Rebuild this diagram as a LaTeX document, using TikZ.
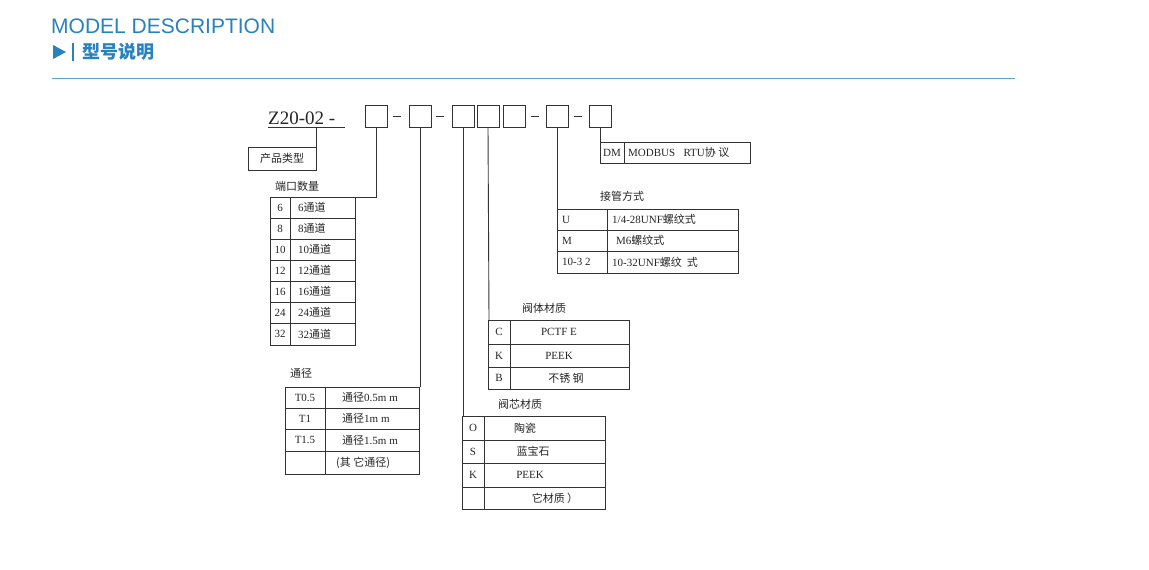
\documentclass[tikz,border=0pt]{standalone}
\usepackage{fontspec}
\setmainfont{Liberation Serif}
\newfontfamily\cjk{Noto Sans CJK SC}
\newfontfamily\hdr{Liberation Sans}
\definecolor{blu}{RGB}{40,130,190}
\definecolor{lblu}{RGB}{90,165,205}
\begin{document}
\begin{tikzpicture}[x=1pt,y=-1pt,
  ln/.style={draw=black!80,line width=0.9pt},
  tx/.style={inner sep=0pt,font=\fontsize{11}{12}\selectfont\cjk,text=black!85},
  lt/.style={inner sep=0pt,font=\fontsize{11}{12}\selectfont,text=black!85}]
\useasboundingbox (0,0) rectangle (1149,570);
\fill[white] (0,0) rectangle (1149,570);
% header
\node[anchor=west,inner sep=0pt,text=blu,font=\fontsize{21}{22}\selectfont\hdr] (h1) at (51,26) {MODEL DESCRIPTION};
\fill[blu] (53,45) -- (66,52) -- (53,59) -- cycle;
\draw[blu,line width=1.6pt] (73,43) -- (73,61);
\node[anchor=west,inner sep=0pt,text=blu,font=\fontsize{18}{19}\selectfont\cjk\bfseries] (h2) at (82,52) {型号说明};
\draw[lblu,line width=1pt] (52,78) -- (1015,78);
% model line
\node[anchor=base west,inner sep=0pt,font=\fontsize{19}{20}\selectfont,text=black!85] (mod) at (268,124) {Z20-02 -};
\draw[ln] (268,127) -- (345,127);
\foreach \n/\x in {b1/365,b2/409,b3/452,b4/477,b5/503,b6/546,b7/589}{
  \draw[ln] (\x,105) rectangle (\x+22,127);
  \coordinate (\n) at (\x+11,127);
}
\foreach \x in {397,440,535,578}{\draw[ln] (\x-4,116) -- (\x+4,116);}
% product type
\draw[ln] (316,127) -- (316,147);
\draw[ln] (248,147) rectangle (316,170);
\node[tx] (pt) at (282,158.5) {产品类型};
% ports
\draw[ln] (b1) -- (376,197) -- (355,197);
\node[tx,anchor=west] (pl) at (275,186) {端口数量};
\draw[ln] (270,197) rectangle (355,345);
\draw[ln] (290,197) -- (290,345);
\foreach \y in {218,239,260,281,302,323}{\draw[ln] (270,\y) -- (355,\y);}
\foreach \a/\y in {6/207.5,8/228.5,10/249.5,12/270.5,16/291.5,24/312.5,32/334}{
  \node[lt] at (280,\y) {\a};
  \node[tx,anchor=west] at (298,\y) {{\fontspec{Liberation Serif}\a}通道};
}
% bore
\draw[ln] (b2) -- (420,387);
\node[tx,anchor=west] (bl) at (290,373) {通径};
\draw[ln] (285,387) rectangle (419,474);
\draw[ln] (325,387) -- (325,474);
\foreach \y in {408,429,451}{\draw[ln] (285,\y) -- (419,\y);}
\node[lt] at (305,397.5) {T0.5};
\node[lt] at (305,418.5) {T1};
\node[lt] at (305,440) {T1.5};
\node[tx,anchor=west] at (342,397.5) {通径{\fontspec{Liberation Serif}0.5m m}};
\node[tx,anchor=west] at (342,418.5) {通径{\fontspec{Liberation Serif}1m m}};
\node[tx,anchor=west] at (342,440) {通径{\fontspec{Liberation Serif}1.5m m}};
\node[tx,anchor=west] at (336,462.5) {(其 它通径)};
% core material
\draw[ln] (b3) -- (463,416);
\node[tx,anchor=west] (cl) at (498,404) {阀芯材质};
\draw[ln] (462,416) rectangle (605,509);
\draw[ln] (484,416) -- (484,509);
\foreach \y in {440,463,487}{\draw[ln] (462,\y) -- (605,\y);}
\node[lt] at (473,428) {O};
\node[lt] at (473,451.5) {S};
\node[lt] at (473,475) {K};
\node[tx] at (525,428) {陶瓷};
\node[tx] at (533,451.5) {蓝宝石};
\node[lt] at (530,475) {PEEK};
\node[tx] at (555,498) {它材质 ）};
% body material
\draw[ln] (b4) -- (489,320);
\node[tx,anchor=west] (vl) at (522,308) {阀体材质};
\draw[ln] (488,320) rectangle (629,389);
\draw[ln] (510,320) -- (510,389);
\foreach \y in {344,367}{\draw[ln] (488,\y) -- (629,\y);}
\node[lt] at (499,332) {C};
\node[lt] at (499,355.5) {K};
\node[lt] at (499,378) {B};
\node[lt] at (559,332) {PCTF E};
\node[lt] at (559,355.5) {PEEK};
\node[tx] at (566,378) {不锈 钢};
% fitting
\draw[ln] (b6) -- (557,209);
\node[tx,anchor=west] (fl) at (600,196) {接管方式};
\draw[ln] (557,209) rectangle (738,273);
\draw[ln] (607,209) -- (607,273);
\foreach \y in {230,251}{\draw[ln] (557,\y) -- (738,\y);}
\node[lt,anchor=west] at (562,219.5) {U};
\node[lt,anchor=west] at (562,240.5) {M};
\node[lt,anchor=west] at (562,262) {10-3 2};
\node[tx,anchor=west] at (612,219.5) {{\fontspec{Liberation Serif}1/4-28UNF}螺纹式};
\node[tx,anchor=west] at (616,240.5) {{\fontspec{Liberation Serif}M6}螺纹式};
\node[tx,anchor=west] at (612,262) {{\fontspec{Liberation Serif}10-32UNF}螺纹\ \ 式};
% protocol
\draw[ln] (b7) -- (600,142);
\draw[ln] (600,142) rectangle (750,163);
\draw[ln] (624,142) -- (624,163);
\node[lt] at (612,152.5) {DM};
\node[tx,anchor=west] at (628,152.5) {{\fontspec{Liberation Serif}MODBUS\ \ \ RTU}协 议};
\end{tikzpicture}
\end{document}
